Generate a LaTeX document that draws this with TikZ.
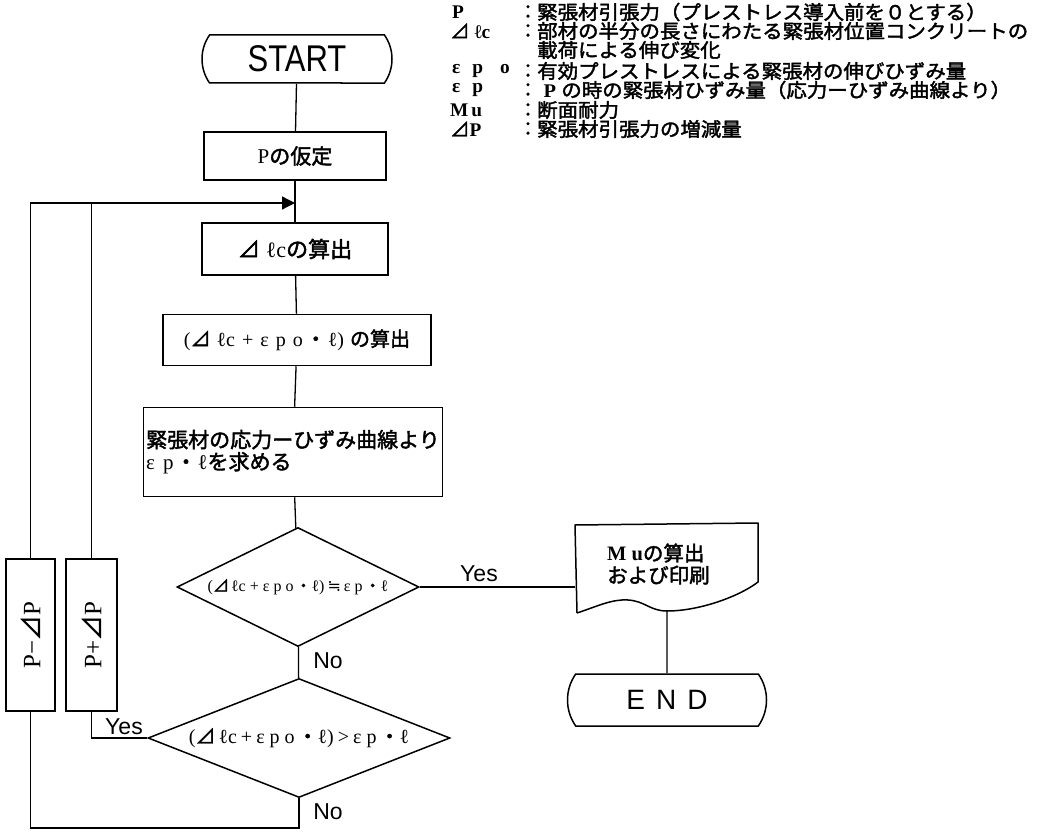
\documentclass[tikz,border=0pt]{standalone}
\usepackage{fontspec}
\setmainfont{Liberation Serif}
\newfontfamily\cjk[FakeBold=2]{Noto Sans CJK JP}
\newfontfamily\hv{Liberation Sans}
\newfontfamily\djv{DejaVu Sans}
\usetikzlibrary{shapes.misc,shapes.geometric,arrows.meta}
\newcommand\J[1]{{\mdseries\cjk #1}}
\newcommand\B[1]{{\bfseries #1}}
\newcommand\W[1]{\scalebox{1.06}[1]{#1}}
\newcommand\fs[1]{\fontsize{#1}{#1}\selectfont}
\begin{document}
\begin{tikzpicture}[x=1pt,y=-1pt,
  shp/.style={draw, line width=1.5pt, inner sep=0pt},
  box/.style={shp, rectangle, align=center},
  term/.style={shp, rounded rectangle, rounded rectangle arc length=70},
  dia/.style={shp, diamond},
  conn/.style={line width=1.3pt},
  lbl/.style={font=\hv\fs{23}, inner sep=0pt},
  leg/.style={anchor=west, inner sep=0pt, font=\fs{19.3}},
  colon/.style={inner sep=0pt, font=\fs{19.3}\cjk}]
\useasboundingbox (0,0) rectangle (1054,834);

% legend
\node[leg] (s1) at (452,12) {\B{P}};
\node[leg] (s2) at (450,31) {\J{⊿}\hspace{5pt}\B{ℓc}};
\node[leg] (s4) at (452,71) {\B{ε\hspace{12pt}p\hspace{17pt}o}};
\node[leg] (s5) at (452,90) {\B{ε\hspace{12pt}p}};
\node[leg] (s6) at (450,110) {\B{M\hspace{3pt}u}};
\node[leg] (s7) at (450,129) {\J{⊿}\B{P}};
\foreach \y/\n in {12/1,31/2,71/4,90/5,110/6,129/7} \node[colon] (k\n) at (528,\y) {：};
\node[leg] (t1) at (537,12) {\W{\J{緊張材引張力（プレストレス導入前を０とする）}}};
\node[leg] (t2) at (537,31) {\W{\J{部材の半分の長さにわたる緊張材位置コンクリートの}}};
\node[leg] (t3) at (537,50) {\W{\J{載荷による伸び変化}}};
\node[leg] (t4) at (537,71) {\W{\J{有効プレストレスによる緊張材の伸びひずみ量}}};
\node[leg] (t5) at (537,90) {\W{\hspace{6pt}\B{P}\hspace{5pt}\J{の時の緊張材ひずみ量（応力ーひずみ曲線より）}}};
\node[leg] (t6) at (537,110) {\W{\J{断面耐力}}};
\node[leg] (t7) at (537,129) {\W{\J{緊張材引張力の増減量}}};

% main column
\node[term, minimum width=190pt, minimum height=48pt] (start) at (297,59) {\hv\fs{31}\scalebox{1}[1.2]{START}};
\node[box, minimum width=182pt, minimum height=48pt] (p0) at (295,156) {\fs{21}P\J{の仮定}};
\coordinate (j) at (295,203);
\node[box, minimum width=186pt, minimum height=52pt] (c1) at (295,249) {\fs{22}\J{⊿}\hspace{6pt}ℓc\J{の算出}};
\node[box, minimum width=268pt, minimum height=51pt] (c2) at (297,340) {\fs{20}(\J{⊿}\hspace{6pt}ℓc\hspace{7pt}+\hspace{7pt}ε\hspace{7pt}p\hspace{7pt}o\hspace{3pt}\J{・}\hspace{2pt}ℓ)\hspace{6pt}\J{の算出}};
\node[box, minimum width=299pt, minimum height=89pt, align=left, font=\fontsize{21}{22}\selectfont] (c3) at (293,452) {\J{緊張材の応力ーひずみ曲線より}\\ε\hspace{8pt}p\hspace{2pt}\J{・}\hspace{1pt}ℓ\J{を求める}};
\node[dia, minimum width=242pt, minimum height=119pt,
  label={[font=\fs{16}]center:(\J{⊿}\hspace{2pt}ℓc\hspace{4pt}+\hspace{4pt}ε\hspace{4pt}p\hspace{4pt}o\hspace{2pt}\J{・}ℓ)\hspace{3pt}{\djv ≒}\hspace{3pt}ε\hspace{4pt}p\hspace{2pt}\J{・}ℓ}] (d1) at (298,587) {};
\node[dia, minimum width=302pt, minimum height=119pt,
  label={[font=\fs{20}]center:(\J{⊿}\hspace{3pt}ℓc\hspace{4pt}+\hspace{4pt}ε\hspace{5pt}p\hspace{5pt}o\hspace{3pt}\J{・}ℓ)\hspace{4pt}>\hspace{4pt}ε\hspace{5pt}p\hspace{3pt}\J{・}ℓ}] (d2) at (299,738) {};

% output document shape
\coordinate (m1) at (575,525);
\coordinate (m2) at (758,523);
\coordinate (m3) at (758,582);
\coordinate (m4) at (577,613);
\draw[line width=1.5pt, line join=round] (m4) -- (m1) -- (m2) -- (m3)
  .. controls (740,596) and (700,611) .. (667,611) coordinate (mb)
  .. controls (650,611) and (645,601) .. (628,600)
  .. controls (612,599) and (598,606) .. (m4);
\node[align=left, anchor=west, inner sep=0pt, font=\fontsize{20.5}{22}\selectfont] (mu) at (607,564) {\B{M\hspace{5pt}u}\J{の算出}\\\J{および印刷}};
\node[term, minimum width=199pt, minimum height=52pt] (end) at (667,700) {\hv\fs{28}E\hspace{11pt}N\hspace{11pt}D};

% side boxes
\node[box, minimum width=49pt, minimum height=152pt] (pm) at (30.5,635) {\rotatebox{90}{\fs{25}P−\J{⊿}P}};
\node[box, minimum width=51pt, minimum height=152pt] (pp) at (91.5,635) {\rotatebox{90}{\fs{25}P+\J{⊿}P}};

% connectors
\draw[conn] (start) -- (p0);
\draw[conn] (p0) -- (c1);
\draw[conn] (c1) -- (c2);
\draw[conn] (c2) -- (c3);
\draw[conn] (c3) -- (d1);
\draw[conn] (d1) -- (d2);
\draw[conn] (d1.east) -- (d1.east -| m1);
\draw[conn] (mb) -- (end);
\draw[conn] (d2.west) -| (pp.south);
\coordinate (bot) at (299,828);
\draw[conn] (d2.south) -- (bot) -| (pm.south);
\draw[conn, -{Triangle[length=13pt,width=13pt]}] (pm.north) |- (j);
\draw[conn] (pp.north) -- (pp.north |- j);

% labels
\node[lbl] (yes1) at (479,574) {Yes};
\node[lbl] (no1) at (328,661) {No};
\node[lbl] (yes2) at (124,727) {Yes};
\node[lbl] (no2) at (328,812) {No};
\end{tikzpicture}
\end{document}
